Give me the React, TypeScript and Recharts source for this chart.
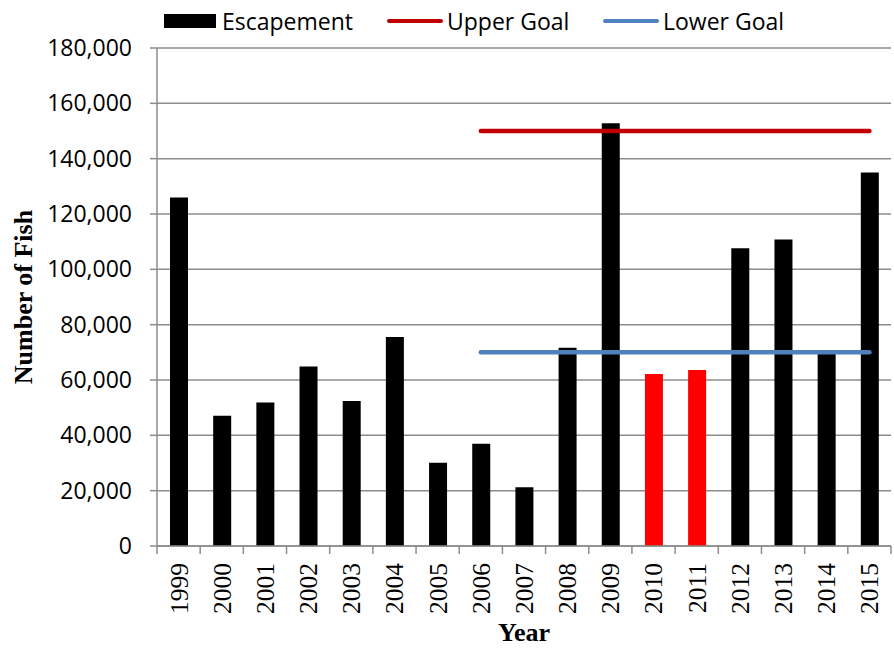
import React from 'react';
import { ComposedChart, Bar, Line, XAxis, YAxis, CartesianGrid, Cell, Legend } from 'recharts';

const years = ['1999', '2000', '2001', '2002', '2003', '2004', '2005', '2006', '2007', '2008', '2009', '2010', '2011', '2012', '2013', '2014', '2015'];
const escapement = [126000, 47100, 51900, 64900, 52400, 75500, 30100, 37000, 21200, 71700, 152800, 62200, 63600, 107600, 110800, 69500, 135000];
const upperGoal = [null, null, null, null, null, null, null, 150000, 150000, 150000, 150000, 150000, 150000, 150000, 150000, 150000, 150000];
const lowerGoal = [null, null, null, null, null, null, null, 70000, 70000, 70000, 70000, 70000, 70000, 70000, 70000, 70000, 70000];
const highlightYears = ['2010', '2011'];
const yTicks = [0, 20000, 40000, 60000, 80000, 100000, 120000, 140000, 160000, 180000];

const data = years.map((y, i) => ({ year: y, escapement: escapement[i], upper: upperGoal[i], lower: lowerGoal[i] }));

const SANS = '"Open Sans", sans-serif';
const SERIF = '"Liberation Serif", "Times New Roman", serif';
const GRID = '#8c8c8c';

const XTick = (props: any) => {
  const { x, y, payload, index } = props;
  const half = payload && payload.offset ? payload.offset : 21.6;
  const last = index === years.length - 1;
  return (
    <g>
      <line x1={x - half} y1={y} x2={x - half} y2={y + 8} stroke={GRID} strokeWidth={1.5} />
      {last && <line x1={x + half} y1={y} x2={x + half} y2={y + 8} stroke={GRID} strokeWidth={1.5} />}
      <text
        x={x}
        y={y + 17}
        transform={`rotate(-90, ${x}, ${y + 17})`}
        textAnchor="end"
        dy="0.35em"
        fontFamily={SERIF}
        fontSize={25.5}
        fill="#000"
      >
        {payload.value}
      </text>
    </g>
  );
};

const XTitle = (props: any) => {
  const vb = props.viewBox || {};
  const cx = (vb.x || 0) + (vb.width || 0) / 2;
  return (
    <text x={cx} y={641} textAnchor="middle" fontFamily={SERIF} fontWeight="bold" fontSize={26} fill="#000">
      Year
    </text>
  );
};

const LegendContent = () => (
  <div style={{ position: 'relative', width: 894, height: 34, fontFamily: SANS, fontSize: 23, color: '#000' }}>
    <div style={{ position: 'absolute', left: 164, top: 10, width: 52, height: 14, background: '#000' }} />
    <div style={{ position: 'absolute', left: 222, top: 0, lineHeight: '34px' }}>Escapement</div>
    <div style={{ position: 'absolute', left: 387, top: 15, width: 56, height: 4, borderRadius: 2, background: '#C00000' }} />
    <div style={{ position: 'absolute', left: 447, top: 0, lineHeight: '34px' }}>Upper Goal</div>
    <div style={{ position: 'absolute', left: 603, top: 15, width: 56, height: 4, borderRadius: 2, background: '#4F81BD' }} />
    <div style={{ position: 'absolute', left: 663, top: 0, lineHeight: '34px' }}>Lower Goal</div>
  </div>
);

export default function App() {
  return (
    <div style={{ position: 'absolute', left: 0, top: 0, width: 894, height: 648, background: '#fff' }}>
      <ComposedChart width={894} height={648} data={data} margin={{ top: 14, right: 3, bottom: 0, left: 0 }}>
        <Legend verticalAlign="top" content={<LegendContent />} wrapperStyle={{ top: 4, left: 0, width: 894, height: 34 }} />
        <CartesianGrid horizontal={true} vertical={false} stroke={GRID} strokeWidth={1.5} />
        <XAxis
          dataKey="year"
          interval={0}
          height={102}
          tickLine={false}
          tickSize={0}
          tickMargin={0}
          axisLine={{ stroke: GRID, strokeWidth: 1.5 }}
          tick={<XTick />}
          label={<XTitle />}
        />
        <YAxis
          domain={[0, 180000]}
          ticks={yTicks}
          width={157}
          tickSize={7}
          tickMargin={18}
          tickLine={{ stroke: GRID, strokeWidth: 1.5 }}
          axisLine={{ stroke: GRID, strokeWidth: 1.5 }}
          tick={{ fontFamily: SANS, fontSize: 23, fill: '#000' }}
          tickFormatter={(v: number) => v.toLocaleString('en-US')}
          label={{ value: 'Number of Fish', angle: -90, position: 'center', dx: -56, fontFamily: SERIF, fontWeight: 'bold', fontSize: 26, fill: '#000' }}
        />
        <Bar dataKey="escapement" name="Escapement" barSize={18} fill="#000" isAnimationActive={false}>
          {data.map((d) => (
            <Cell key={d.year} fill={highlightYears.includes(d.year) ? '#FF0000' : '#000'} />
          ))}
        </Bar>
        <Line dataKey="upper" name="Upper Goal" stroke="#C00000" strokeWidth={4.5} strokeLinecap="round" dot={false} activeDot={false} isAnimationActive={false} />
        <Line dataKey="lower" name="Lower Goal" stroke="#4F81BD" strokeWidth={4.5} strokeLinecap="round" dot={false} activeDot={false} isAnimationActive={false} />
      </ComposedChart>
    </div>
  );
}
